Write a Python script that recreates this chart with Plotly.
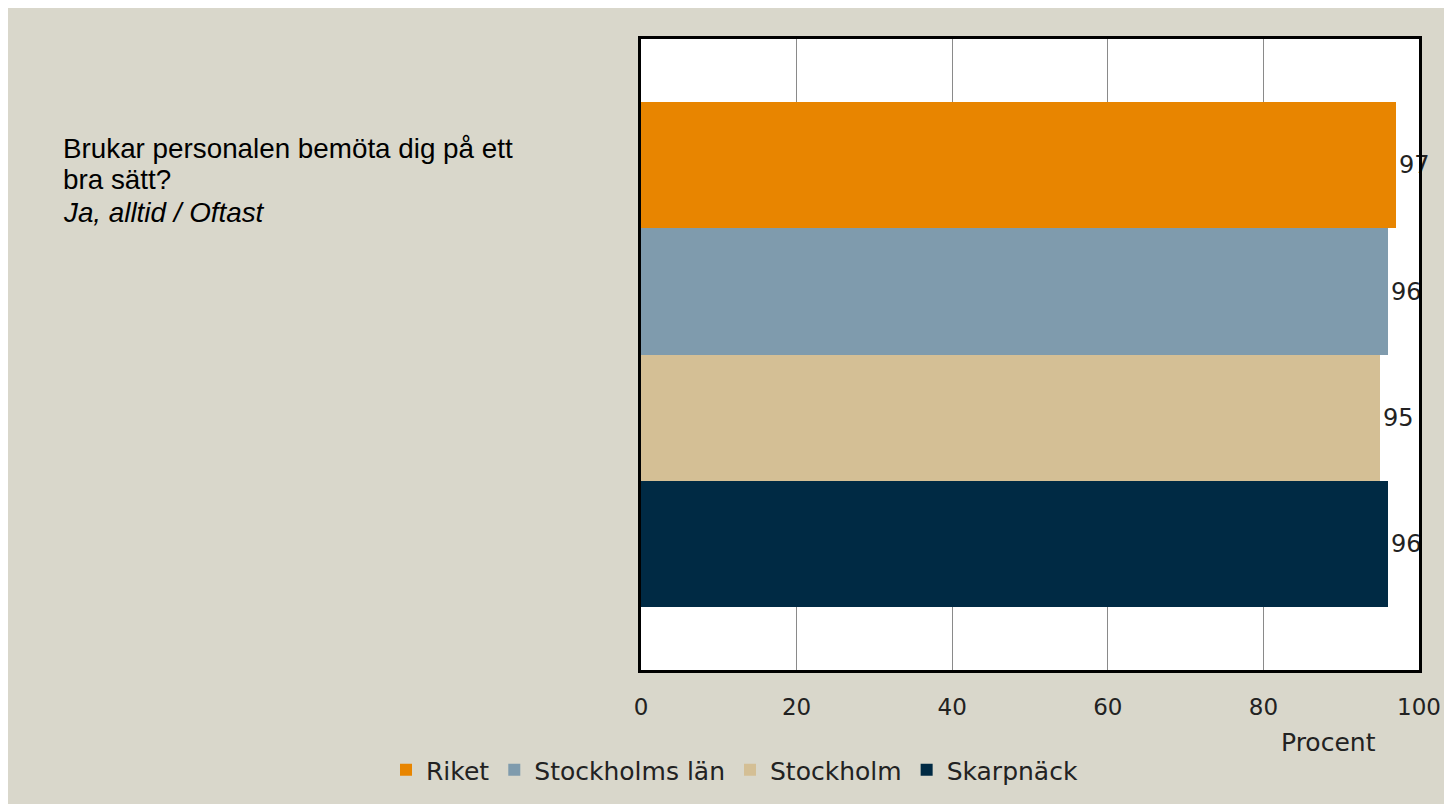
import plotly.graph_objects as go

categories = ["Riket", "Stockholms län", "Stockholm", "Skarpnäck"]
values = [97, 96, 95, 96]
colors = ["#e88500", "#7f9bad", "#d4bf95", "#002a44"]
x_ticks = [0, 20, 40, 60, 80, 100]
title_lines = ["Brukar personalen bemöta dig på ett", "bra sätt?", "<i>Ja, alltid / Oftast</i>"]

W, H = 1452, 804
OFF = 8  # page body margin offset
# plot area in reference pixel coordinates
PL, PR, PT, PB = 641, 1419, 39, 670
L = PL - OFF
R = W - (PR - OFF)
T = PT - OFF
B = H - (PB - OFF)

def px(x):
    return (x - PL) / (PR - PL)

def py(y):
    return (PB - y) / (PB - PT)

bg = "#d9d7cb"
UI_FONT = "DejaVu Sans, Verdana, sans-serif"

fig = go.Figure()
for cat, val, col in zip(categories, values, colors):
    fig.add_trace(go.Bar(
        y=[cat], x=[val], orientation="h", name=cat,
        marker=dict(color=col, line=dict(width=0)), width=1,
        text=[str(val)], textposition="outside", cliponaxis=False,
        textfont=dict(family=UI_FONT, size=24, color="#222"),
        hoverinfo="skip",
    ))

annotations = []
for line, yc in zip(title_lines, [148, 179, 212]):
    annotations.append(dict(
        text=line, xref="paper", yref="paper", x=px(61), y=py(yc),
        xanchor="left", yanchor="middle", align="left", showarrow=False,
        font=dict(family="Liberation Sans, Arial, sans-serif", size=27.8, color="black")))
annotations.append(dict(
    text="Procent", xref="paper", yref="paper", x=px(1378), y=py(742),
    xanchor="right", yanchor="middle", showarrow=False,
    font=dict(family=UI_FONT, size=25, color="#222")))

fig.update_layout(
    width=W, height=H,
    margin=dict(l=L, r=R, t=T, b=B),
    paper_bgcolor=bg, plot_bgcolor="white",
    barmode="overlay", bargap=0,
    showlegend=True,
    legend=dict(orientation="h", x=px(386), xanchor="left", y=py(770), yanchor="middle",
                font=dict(family=UI_FONT, size=25, color="#222"),
                bgcolor="rgba(0,0,0,0)", traceorder="normal", itemwidth=30),
    xaxis=dict(range=[0, 100], tickvals=x_ticks, showgrid=True, gridcolor="#8a8a8a", gridwidth=1,
               showline=True, linecolor="black", linewidth=3, mirror=True, zeroline=False,
               ticks="outside", ticklen=14, tickcolor="rgba(0,0,0,0)",
               tickfont=dict(family=UI_FONT, size=23, color="#222")),
    yaxis=dict(categoryorder="array", categoryarray=categories[::-1], range=[-1, 4],
               showticklabels=False, showgrid=False, showline=True, linecolor="black",
               linewidth=3, mirror=True, ticks=""),
    annotations=annotations,
)

fig.write_html("out.html")
